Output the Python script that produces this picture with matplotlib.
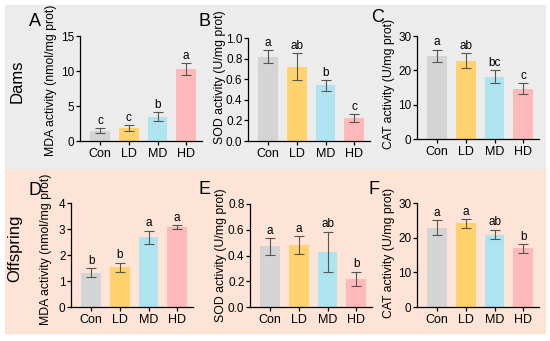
import matplotlib
matplotlib.use("Agg")
import matplotlib.pyplot as plt
from matplotlib.patches import Rectangle

plt.rcParams['font.family'] = ['Liberation Sans', 'DejaVu Sans']

groupes = ["Con", "LD", "MD", "HD"]
couleurs = ["#d4d4d4", "#ffd26e", "#aee4ef", "#ffb9bb"]

# panel values (mean, error, letter)
mda_dams = [1.5, 1.9, 3.5, 10.3]
mda_dams_err = [0.3, 0.4, 0.6, 0.85]
mda_dams_let = ["c", "c", "b", "a"]

sod_dams = [0.82, 0.72, 0.54, 0.22]
sod_dams_err = [0.06, 0.13, 0.05, 0.04]
sod_dams_let = ["a", "ab", "b", "c"]

cat_dams = [24.2, 22.8, 18.2, 14.7]
cat_dams_err = [1.8, 2.2, 1.9, 1.6]
cat_dams_let = ["a", "ab", "bc", "c"]

mda_off = [1.32, 1.52, 2.68, 3.08]
mda_off_err = [0.17, 0.19, 0.26, 0.07]
mda_off_let = ["b", "b", "a", "a"]

sod_off = [0.47, 0.48, 0.43, 0.22]
sod_off_err = [0.065, 0.07, 0.155, 0.055]
sod_off_let = ["a", "a", "ab", "b"]

cat_off = [22.9, 24.1, 20.9, 16.9]
cat_off_err = [2.2, 1.2, 1.4, 1.2]
cat_off_let = ["a", "a", "ab", "b"]

W, H = 550, 341
fig = plt.figure(figsize=(W / 100, H / 100), dpi=100)

def px_rect(x0, y0, x1, y1):
    return [x0 / W, 1 - y1 / H, (x1 - x0) / W, (y1 - y0) / H]

# backgrounds
fig.patches.append(Rectangle((5 / W, 1 - 170 / H), 540 / W, 165 / H,
                             transform=fig.transFigure, color="#ececec", zorder=-5))
fig.patches.append(Rectangle((5 / W, 1 - 333 / H), 540 / W, 163 / H,
                             transform=fig.transFigure, color="#fde4d6", zorder=-5))

# letter, axes box (px), values, errors, letters, ymax, ticks, ylabel, letter pos, ylabel pos
panneaux = [
    ("A", (80, 36, 202, 141), mda_dams, mda_dams_err, mda_dams_let, 15, [0, 5, 10, 15], "MDA activity (nmol/mg prot)", (35, 22), (57, 80)),
    ("B", (248, 38, 370, 141), sod_dams, sod_dams_err, sod_dams_let, 1.0, [0.0, 0.2, 0.4, 0.6, 0.8, 1.0], "SOD activity (U/mg prot)", (205, 21), (226, 77)),
    ("C", (417, 36, 539, 139), cat_dams, cat_dams_err, cat_dams_let, 30, [0, 10, 20, 30], "CAT activity (U/mg prot)", (378, 18), (395, 84)),
    ("D", (71, 203, 193, 307), mda_off, mda_off_err, mda_off_let, 4, [0, 1, 2, 3, 4], "MDA activity (nmol/mg prot)", (35, 191), (52, 249)),
    ("E", (250, 204, 372, 307), sod_off, sod_off_err, sod_off_let, 0.8, [0.0, 0.2, 0.4, 0.6, 0.8], "SOD activity (U/mg prot)", (205, 190), (227, 255)),
    ("F", (417, 203, 539, 307), cat_off, cat_off_err, cat_off_let, 30, [0, 10, 20, 30], "CAT activity (U/mg prot)", (374, 190), (395, 253)),
]

for lettre, box, vals, errs, lets, ymax, ticks, ylab, pos, lpos in panneaux:
    ax = fig.add_axes(px_rect(*box))
    ax.patch.set_alpha(0)
    x = range(len(groupes))
    ax.bar(x, vals, width=0.68, color=couleurs, zorder=1)
    ax.errorbar(x, vals, yerr=errs, fmt="none", ecolor="#555555",
                elinewidth=0.8, capsize=3.5, capthick=0.8, zorder=2)
    for i in x:
        ax.text(i, vals[i] + errs[i] + ymax * 0.012, lets[i], ha="center",
                va="bottom", fontsize=8.5)
    ax.set_xlim(-0.7, 3.55)
    ax.set_ylim(0, ymax)
    ax.set_yticks(ticks)
    if ymax < 2:
        ax.set_yticklabels([f"{t:.1f}" for t in ticks])
    ax.set_xticks(list(x))
    ax.set_xticklabels(groupes)
    ax.tick_params(length=3, width=0.9)
    ax.tick_params(axis="x", labelsize=9, pad=2)
    ax.tick_params(axis="y", labelsize=8.5, pad=1)
    for s in ["top", "right"]:
        ax.spines[s].set_visible(False)
    for s in ["left", "bottom"]:
        ax.spines[s].set_linewidth(0.9)
    ax.set_ylabel(ylab, fontsize=8.8)
    ax.yaxis.set_label_coords(lpos[0] / W, 1 - lpos[1] / H, transform=fig.transFigure)
    fig.text(pos[0] / W, 1 - pos[1] / H, lettre, fontsize=13,
             ha="center", va="center")

fig.text(17 / W, 1 - 81 / H, "Dams", rotation=90, fontsize=12,
         ha="center", va="center")
fig.text(15 / W, 1 - 248 / H, "Offspring", rotation=90, fontsize=12,
         ha="center", va="center")

fig.savefig("out.png", dpi=100)
